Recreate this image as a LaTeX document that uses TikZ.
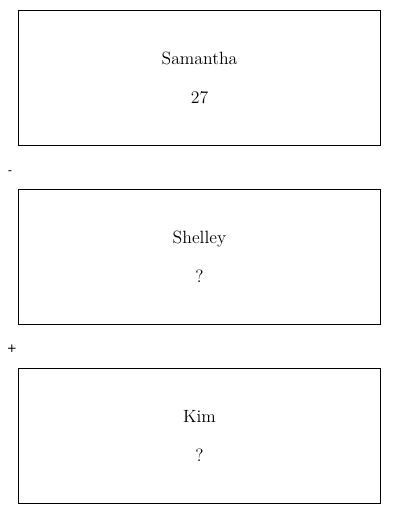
\documentclass[tikz,border=0pt]{standalone}
\usepackage{fontspec}
\newfontfamily\signfont{DejaVu Sans}
\usetikzlibrary{positioning}

\begin{document}
\begin{tikzpicture}[
  x=0.75pt,y=-0.75pt,
  every node/.style={font=\fontsize{13.3}{17.25}\selectfont},
  personbox/.style={draw,line width=0.6pt,minimum width=272pt,minimum height=101pt,
                    align=center,inner sep=0pt,text depth=0pt},
  signlabel/.style={font=\signfont\fontsize{9}{11}\selectfont,inner sep=0pt},
]
  \useasboundingbox (0,0) rectangle (400,514);

  % People
  \node[personbox] (sam) at (199.5,78) {Samantha\\[12pt]27};
  \node[personbox] (shel) at (199.5,257) {Shelley\\[12pt]?};
  \node[personbox] (kim) at (199.5,436) {Kim\\[12pt]?};

  % Signs between the boxes
  \node[signlabel] (minus) at (10,173) {-};
  \node[signlabel] (plus) at (12,349) {+};
\end{tikzpicture}
\end{document}
